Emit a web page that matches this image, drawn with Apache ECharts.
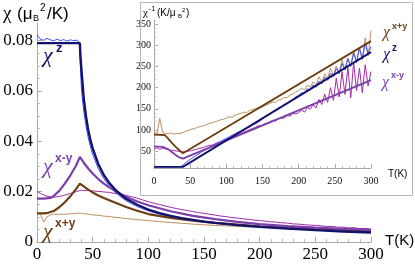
<!DOCTYPE html>
<html><head><meta charset="utf-8">
<script src="https://cdn.jsdelivr.net/npm/echarts@6/dist/echarts.min.js"></script>
<style>html,body{margin:0;padding:0;background:#fff}#c{width:415px;height:264px}</style>
</head><body><div id="c"></div>
<script>
// ---------- main panel: chi (muB^2/K) vs T ----------
var mainXTicks = [0, 50, 100, 150, 200, 250, 300];
var mainYTicks = [0, 0.02, 0.04, 0.06, 0.08];
var mainYMinor = [0.005,0.01,0.015,0.025,0.03,0.035,0.045,0.05,0.055,0.065,0.07,0.075];

// fits (main)
var tZFit = [0,38.5,39,40,41,42,44,46,48,50,55,60,65,70,75,80,90,100,110,120,130,140,150,160,180,200,225,250,275,300];
var zFit  = [0.0790,0.0790,0.0740,0.0680,0.0625,0.0570,0.0500,0.0445,0.0405,0.0372,0.0310,0.0266,0.0234,0.0209,0.0189,0.0172,0.0148,0.0129,0.0115,0.0104,0.0095,0.0088,0.0081,0.0076,0.0067,0.0060,0.0053,0.0047,0.0042,0.0038];
var tXmyFit = [0,6,12,15,20,25,30,35,38.5,42,46,50,55,60,66,70,80,90,100,120,140,160,180,200,225,250,275,300];
var xmyFit  = [0.0172,0.0172,0.0175,0.0183,0.0203,0.0232,0.0265,0.0303,0.0338,0.0315,0.0292,0.0272,0.0250,0.0232,0.0214,0.0203,0.0180,0.0161,0.0146,0.0122,0.0104,0.0091,0.0080,0.0071,0.0063,0.0057,0.0052,0.0048];
var tXpyFit = [0,6,10,15,20,25,30,35,38.5,42,46,50,55,60,66,70,80,90,100,120,140,160,180,200,225,250,275,300];
var xpyFit  = [0.0114,0.0114,0.0116,0.0123,0.0138,0.0158,0.0182,0.0210,0.0232,0.0221,0.0208,0.0197,0.0185,0.0175,0.0164,0.0157,0.0139,0.0124,0.0111,0.0096,0.0085,0.0076,0.0069,0.0062,0.0056,0.0050,0.0045,0.0041];

// measured data (main)
var tMain = [0,3,6,9,12,15,18,21,24,27,30,33,36,38,40,42,44,46,48,50,55,60,65,70,75,80,85,90,95,100,105,110,115,120,125,130,135,140,145,150,155,160,165,170,175,180,185,190,195,200,205,210,215,220,225,230,235,240,245,250,255,260,265,270,275,280,285,290,295,300];
var zData = [0.0822,0.0806,0.0801,0.0809,0.0803,0.0799,0.0806,0.0800,0.0804,0.0798,0.0803,0.0800,0.0802,0.0792,
 0.0600,0.0520,0.0462,0.0415,0.0378,0.0348,
 0.0292,0.0252,0.0222,0.0199,0.0180,0.0164,0.0152,0.0141,0.0132,0.0124,
 0.0117,0.0111,0.0105,0.0101,0.0096,0.0093,0.0089,0.0087,0.0083,0.0081,
 0.0078,0.0077,0.0073,0.0072,0.0069,0.0068,0.0065,0.0065,0.0062,0.0061,
 0.0059,0.0058,0.0056,0.0056,0.0053,0.0053,0.0051,0.0050,0.0049,0.0048,
 0.0046,0.0046,0.0044,0.0045,0.0042,0.0042,0.0040,0.0041,0.0038,0.0039];
var xmyData = [0.0201,0.0193,0.0187,0.0182,0.0179,0.0178,0.0180,0.0182,0.0185,0.0189,0.0193,0.0197,0.0201,0.0204,
 0.0206,0.0204,0.0205,0.0206,0.0203,0.0203,
 0.0201,0.0199,0.0197,0.0193,0.0190,0.0185,0.0180,0.0174,0.0167,0.0160,
 0.0154,0.0149,0.0143,0.0138,0.0133,0.0129,0.0125,0.0121,0.0117,0.0114,
 0.0110,0.0107,0.0103,0.0101,0.0097,0.0095,0.0092,0.0090,0.0087,0.0085,
 0.0083,0.0080,0.0079,0.0076,0.0075,0.0072,0.0071,0.0069,0.0067,0.0066,
 0.0064,0.0062,0.0062,0.0059,0.0059,0.0056,0.0057,0.0053,0.0054,0.0051];
var xpyData = [0.0118,0.0110,0.0079,0.0100,0.0108,0.0111,0.0109,0.0111,0.0110,0.0111,0.0112,0.0113,0.0114,0.0115,
 0.0114,0.0112,0.0112,0.0110,0.0109,0.0108,
 0.0106,0.0103,0.0101,0.0098,0.0096,0.0093,0.0091,0.0089,0.0087,0.0085,
 0.0083,0.0081,0.0079,0.0078,0.0076,0.0074,0.0073,0.0071,0.0070,0.0068,
 0.0067,0.0066,0.0065,0.0064,0.0063,0.0062,0.0061,0.0060,0.0060,0.0059,
 0.0058,0.0057,0.0056,0.0055,0.0054,0.0054,0.0053,0.0052,0.0051,0.0051,
 0.0050,0.0049,0.0048,0.0048,0.0047,0.0046,0.0046,0.0045,0.0045,0.0044];

// ---------- inset: 1/chi (K/muB^2) vs T ----------
var insYTicks = [50, 100, 150, 200, 250, 300, 350];
var tZInvFit = [0, 40, 300];
var zInvFit  = [12.7, 12.7, 284];
var tXpyInvFit = [0, 15, 20, 25, 30, 35, 40, 300];
var xpyInvFit  = [89, 88, 79, 69, 60, 52, 45, 310];
var tXmyInvFit = [0, 12, 20, 25, 30, 35, 40, 300];
var xmyInvFit  = [61, 60, 54, 47, 41, 35, 32, 218];

var tIns = [0,4,8,12,16,20,24,28,32,36,40,44,48,52,56,60,64,68,72,76,80,84,88,92,96,100,104,108,112,116,120,124,128,132,136,140,144,148,152,156,160,164,168,172,176,180,184,188,192,196,200,204,208,212,216,220,224,228,232,236,240,244,248,252,256,260,264,268,272,276,280,284,288,292,296,300];
var zInvData = [12.2,12.6,12.3,12.5,12.4,12.6,12.3,12.5,12.4,12.6,16.5,22.8,27.9,32.6,37.2,41.5,45.9,50.2,54.0,57.9,
 61.6,65.2,69.3,72.8,76.4,80.2,83.6,87.5,90.4,94.7,97.0,101.1,104.8,107.2,111.9,114.5,118.3,122.9,
 129.5,134.9,137.6,143.8,145.2,151.9,153.7,160.2,161.5,168.9,170.4,178.7,180.9,188.4,186.1,197.6,193.8,206.5,201.2,214.9,
 209.4,224.8,217.3,233.6,226.0,245.2,232.7,256.9,242.4,268.3,250.8,281.5,262.0,292.7,268.4,305.1,279.6,297.0];
var xpyInvData = [96,90,127,94,92,91,93,90,92,91,94,97,99,102,103,106,108,110,112,115,
 117,119,121,124,125,128,131,130,135,137,139,142,141,146,148,150,153,152,157,159,
 163,166,165,171,172,177,176,183,184,190,193,199,194,206,201,214,207,226,212,233,
 222,246,228,251,236,266,242,270,250,288,258,296,266,318,275,335,282,312];
var xmyInvData = [55,58,54,57,55,53,52,51,50,49,48,49,50,51,53,55,57,58,61,63,
 64,67,70,72,76,78,81,84,86,90,91,95,97,101,103,106,110,109,114,116,
 119,123,121,127,128,128,134,133,139,138,141,147,142,153,149,160,152,172,160,185,
 165,200,170,222,178,238,184,248,176,260,193,246,188,254,204,238];

function zip(t, v) { return t.map(function (x, i) { return [x, v[i]]; }); }

var NAVY = '#12126e', BLUE = '#3b4cff', PURP = '#7b3fab', MAG = '#a22aa6', BROWN = '#6e3f14', TAN = '#bf8f5f';

function line(data, color, w, xi, yi, z) {
  return { type: 'line', data: data, xAxisIndex: xi, yAxisIndex: yi, showSymbol: false, symbol: 'none',
    lineStyle: { color: color, width: w }, itemStyle: { color: color }, z: z, silent: true, animation: false };
}

var axisGray = '#a8a8a8';
var chart = echarts.init(document.getElementById('c'), null, { renderer: 'canvas' });

var serif = 'Liberation Serif';
var sans = 'Liberation Sans';

function txt(x, y, s, size, color, font, extra) {
  var st = { x: x, y: y, text: s, fill: color, font: (extra || '') + ' ' + size + 'px "' + font + '"', textVerticalAlign: 'middle' };
  return { type: 'text', style: st, z: 100, silent: true };
}

chart.setOption({
  animation: false,
  backgroundColor: '#fff',
  grid: [
    { left: 37, right: 44, top: 23, bottom: 22 },
    { left: 154, right: 44, top: 20, bottom: 96 }
  ],
  xAxis: [
    { gridIndex: 0, type: 'value', min: 0, max: 300, interval: 50,
      axisLine: { lineStyle: { color: axisGray } },
      axisTick: { inside: true, length: 5, lineStyle: { color: axisGray } },
      minorTick: { show: true, splitNumber: 5, length: 3, lineStyle: { color: '#c0c0c0' } },
      axisLabel: { color: '#000', fontFamily: serif, fontSize: 17, margin: 4,
        customValues: mainXTicks },
      splitLine: { show: false } },
    { gridIndex: 1, type: 'value', min: 0, max: 300, interval: 50,
      axisLine: { lineStyle: { color: axisGray } },
      axisTick: { inside: true, length: 4, lineStyle: { color: axisGray } },
      minorTick: { show: true, splitNumber: 5, length: 2, lineStyle: { color: '#c0c0c0' } },
      axisLabel: { color: '#111', fontFamily: serif, fontSize: 10, margin: 8 },
      splitLine: { show: false } }
  ],
  yAxis: [
    { gridIndex: 0, type: 'value', min: 0, max: 0.087,
      axisLine: { show: true, lineStyle: { color: axisGray } },
      axisTick: { show: true, inside: true, length: 5, customValues: mainYTicks, lineStyle: { color: axisGray } },
      axisLabel: { color: '#000', fontFamily: serif, fontSize: 17, margin: 4, customValues: mainYTicks,
        formatter: function (v) { return v === 0 ? '0' : v.toFixed(2); } },
      splitLine: { show: false } },
    { gridIndex: 0, type: 'value', min: 0, max: 0.087, position: 'left',
      axisLine: { show: false },
      axisTick: { show: true, inside: true, length: 3, customValues: mainYMinor, lineStyle: { color: '#c0c0c0' } },
      axisLabel: { show: false }, splitLine: { show: false } },
    { gridIndex: 1, type: 'value', min: 10, max: 360, interval: 50,
      axisLine: { show: true, lineStyle: { color: axisGray } },
      axisTick: { show: true, inside: true, length: 4, customValues: insYTicks, lineStyle: { color: axisGray } },
      minorTick: { show: true, splitNumber: 5, length: 2, lineStyle: { color: '#c0c0c0' } },
      axisLabel: { color: '#111', fontFamily: serif, fontSize: 10, margin: 3, customValues: insYTicks },
      splitLine: { show: false } }
  ],
  series: [
    line(zip(tMain, xpyData), TAN, 1, 0, 0, 2),
    line(zip(tMain, xmyData), MAG, 1, 0, 0, 2),
    line(zip(tMain, zData), BLUE, 1, 0, 0, 2),
    line(zip(tXpyFit, xpyFit), BROWN, 2.2, 0, 0, 3),
    line(zip(tXmyFit, xmyFit), PURP, 2.2, 0, 0, 3),
    line(zip(tZFit, zFit), NAVY, 2.4, 0, 0, 3),

    line(zip(tIns, xpyInvData), TAN, 1, 1, 2, 5),
    line(zip(tIns, xmyInvData), MAG, 1, 1, 2, 5),
    line(zip(tIns, zInvData), BLUE, 1, 1, 2, 5),
    line(zip(tXpyInvFit, xpyInvFit), BROWN, 1.8, 1, 2, 6),
    line(zip(tXmyInvFit, xmyInvFit), PURP, 1.8, 1, 2, 6),
    line(zip(tZInvFit, zInvFit), NAVY, 1.8, 1, 2, 6)
  ],
  graphic: [
    { type: 'rect', shape: { x: 140.5, y: 2.5, width: 272, height: 193 }, style: { fill: 'none', stroke: '#b8b8b8', lineWidth: 1 }, z: 50, silent: true },
    // main y title
    txt(3, 14, 'χ', 19, '#000', serif),
    txt(17, 14, '(μ', 17, '#000', sans),
    txt(33, 19, 'B', 9, '#000', sans),
    txt(40, 8, '2', 10, '#000', sans),
    txt(47, 14, '/K)', 17, '#000', sans),
    // main x name
    txt(385, 241, 'T(K)', 15, '#000', sans),
    // inset titles
    txt(143, 13, 'χ', 11, '#000', serif),
    txt(149, 9, '-1', 7, '#000', sans),
    txt(157, 13, '(K/μ', 10, '#000', sans),
    txt(178, 16, 'B', 6, '#000', sans),
    txt(182, 10, '2', 6, '#000', sans),
    txt(186, 13, ')', 10, '#000', sans),
    txt(388, 174, 'T(K)', 10, '#000', sans),
    // main curve labels
    txt(43, 56, 'χ', 22, NAVY, serif, 'italic'),
    txt(56, 48, 'z', 13, NAVY, sans, 'bold'),
    txt(43, 167, 'χ', 22, PURP, serif, 'italic'),
    txt(55, 159, 'x-y', 12, PURP, sans, 'bold'),
    txt(43, 232, 'χ', 22, BROWN, serif, 'italic'),
    txt(55, 224, 'x+y', 12, BROWN, sans, 'bold'),
    // inset curve labels
    txt(383, 33, 'χ', 16, BROWN, serif, 'italic'),
    txt(392, 27, 'x+y', 9, BROWN, sans, 'bold'),
    txt(383, 55, 'χ', 16, NAVY, serif, 'italic'),
    txt(392, 48, 'z', 10, NAVY, sans, 'bold'),
    txt(382, 83, 'χ', 16, PURP, serif, 'italic'),
    txt(391, 76, 'x-y', 9, PURP, sans, 'bold')
  ]
});
</script></body></html>
